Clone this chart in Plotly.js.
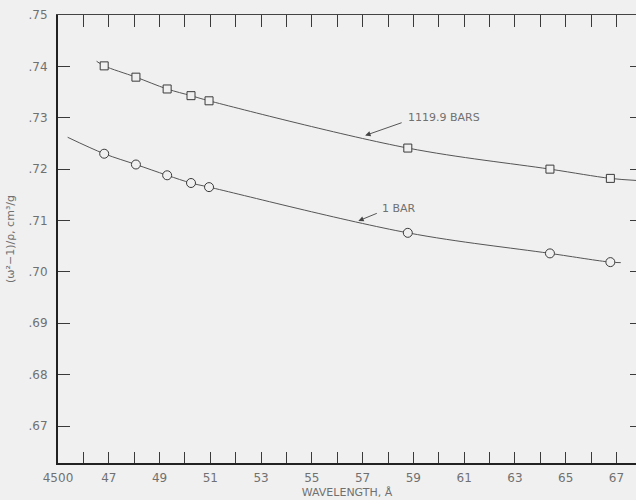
<!DOCTYPE html>
<html>
<head>
<meta charset="utf-8">
<script src="https://cdn.plot.ly/plotly-3.0.1.min.js"></script>
<style>
  html, body { margin: 0; padding: 0; background: #f0f0f0; }
  #chart { width: 636px; height: 500px; }
</style>
</head>
<body>
<div id="chart"></div>
<script>
// Wavelengths (Å) of the measured lines
const wavelengths = [4682, 4807, 4930, 5024, 5095, 5878, 6438, 6676];
// (ω²−1)/ρ at 1119.9 bars (squares)
const highPressure = [0.7401, 0.7379, 0.7356, 0.7343, 0.7333, 0.7241, 0.7200, 0.7182];
// (ω²−1)/ρ at 1 bar (circles)
const lowPressure = [0.7230, 0.7209, 0.7188, 0.7173, 0.7165, 0.7076, 0.7036, 0.7019];

// Points (ends included)
const curveHighX = [4652, 4682, 4807, 4930, 5024, 5095, 5878, 6438, 6676, 6777];
const curveHighY = [0.7410, 0.7401, 0.7379, 0.7356, 0.7343, 0.7333, 0.7241, 0.7200, 0.7182, 0.7178];
const curveLowX = [4538, 4682, 4807, 4930, 5024, 5095, 5878, 6438, 6676, 6717];
const curveLowY = [0.7262, 0.7230, 0.7209, 0.7188, 0.7173, 0.7165, 0.7076, 0.7036, 0.7019, 0.7018];

// Axis ticks
const xTickVals = [4500,4600,4700,4800,4900,5000,5100,5200,5300,5400,5500,5600,5700,5800,5900,6000,6100,6200,6300,6400,6500,6600,6700];
const xTickText = ["4500","","47","","49","","51","","53","","55","","57","","59","","61","","63","","65","","67"];
const yTickVals = [0.67, 0.68, 0.69, 0.70, 0.71, 0.72, 0.73, 0.74, 0.75];
const yTickText = [".67", ".68", ".69", ".70", ".71", ".72", ".73", ".74", ".75"];

const xRange = [4500, 6777];
const yRange = [0.6628, 0.75];

const bg = '#f0f0f0';
const ink = '#3a3a3a';
const textGray = '#707070';
const fontFam = 'DejaVu Sans, Liberation Sans, sans-serif';

const traces = [
  { x: curveHighX, y: curveHighY, mode: 'lines', line: { color: '#555', width: 1, shape: 'spline', smoothing: 1 }, hoverinfo: 'skip', showlegend: false },
  { x: curveLowX, y: curveLowY, mode: 'lines', line: { color: '#555', width: 1, shape: 'spline', smoothing: 1 }, hoverinfo: 'skip', showlegend: false },
  { x: wavelengths, y: highPressure, mode: 'markers', name: '1119.9 BARS',
    marker: { symbol: 'square', size: 8, color: bg, line: { color: ink, width: 1 } }, showlegend: false },
  { x: wavelengths, y: lowPressure, mode: 'markers', name: '1 BAR',
    marker: { symbol: 'circle', size: 9, color: bg, line: { color: ink, width: 1 } }, showlegend: false },
  // invisible trace to carry the mirrored top/right axes
  { x: [xRange[0]], y: [yRange[0]], xaxis: 'x2', yaxis: 'y2', mode: 'markers', marker: { opacity: 0 }, hoverinfo: 'skip', showlegend: false }
];

const layout = {
  width: 636, height: 500,
  paper_bgcolor: bg, plot_bgcolor: bg,
  margin: { l: 58, r: 0, t: 15, b: 37 },
  font: { family: fontFam, color: textGray, size: 12 },
  showlegend: false,
  xaxis: {
    range: xRange, showgrid: false, zeroline: false,
    showline: true, linecolor: '#222', linewidth: 2,
    ticks: 'inside', ticklen: 11, tickwidth: 1, tickcolor: ink,
    tickvals: xTickVals, ticktext: xTickText,
    tickfont: { family: fontFam, size: 12, color: textGray },
    ticklabelstandoff: 3,
    title: { text: 'WAVELENGTH, Å', font: { family: fontFam, size: 11, color: textGray }, standoff: 4 }
  },
  yaxis: {
    range: yRange, showgrid: false, zeroline: false,
    showline: true, linecolor: '#222', linewidth: 2,
    ticks: 'inside', ticklen: 12, tickwidth: 1, tickcolor: ink,
    tickvals: yTickVals, ticktext: yTickText,
    tickfont: { family: fontFam, size: 12, color: textGray },
    ticklabelstandoff: 6,
    title: { text: '(ω²−1)/ρ, cm³/g', font: { family: fontFam, size: 11, color: textGray }, standoff: 12 }
  },
  xaxis2: {
    overlaying: 'x', side: 'top', anchor: 'y', range: xRange,
    showgrid: false, zeroline: false, showline: true, linecolor: '#444', linewidth: 1,
    ticks: 'inside', ticklen: 12, tickwidth: 1, tickcolor: ink,
    tickvals: xTickVals, showticklabels: false
  },
  yaxis2: {
    overlaying: 'y', side: 'right', anchor: 'x', range: yRange,
    showgrid: false, zeroline: false, showline: false,
    ticks: 'inside', ticklen: 6, tickwidth: 1, tickcolor: ink,
    tickvals: yTickVals, showticklabels: false
  },
  annotations: [
    { x: 5710, y: 0.72655, xref: 'x', yref: 'y', ax: 40, ay: -14, text: ' ',
      showarrow: true, arrowhead: 2, arrowsize: 1.2, arrowwidth: 0.9, arrowcolor: '#444', standoff: 0 },
    { x: 5871, y: 0.73013, xref: 'x', yref: 'y', text: '1119.9 BARS', showarrow: false,
      xanchor: 'left', yanchor: 'middle', font: { family: fontFam, size: 11, color: textGray } },
    { x: 5683, y: 0.70992, xref: 'x', yref: 'y', ax: 22, ay: -9, text: ' ',
      showarrow: true, arrowhead: 2, arrowsize: 1.2, arrowwidth: 0.9, arrowcolor: '#444', standoff: 0 },
    { x: 5769, y: 0.71239, xref: 'x', yref: 'y', text: '1 BAR', showarrow: false,
      xanchor: 'left', yanchor: 'middle', font: { family: fontFam, size: 11, color: textGray } }
  ]
};

Plotly.newPlot('chart', traces, layout, { displayModeBar: false, staticPlot: true });
</script>
</body>
</html>
